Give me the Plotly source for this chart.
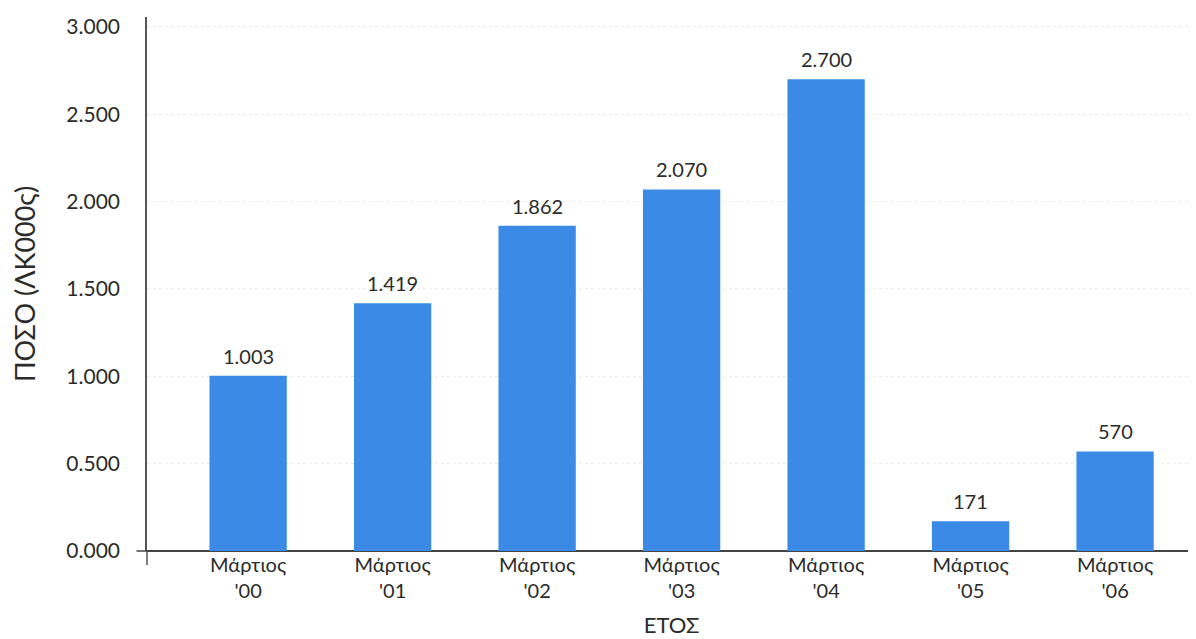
import plotly.graph_objects as go

categories = ["Μάρτιος<br>'00", "Μάρτιος<br>'01", "Μάρτιος<br>'02", "Μάρτιος<br>'03",
              "Μάρτιος<br>'04", "Μάρτιος<br>'05", "Μάρτιος<br>'06"]
values = [1003, 1419, 1862, 2070, 2700, 171, 570]
value_labels = ["1.003", "1.419", "1.862", "2.070", "2.700", "171", "570"]
y_tickvals = [0, 500, 1000, 1500, 2000, 2500, 3000]
y_ticktext = ["0.000", "0.500", "1.000", "1.500", "2.000", "2.500", "3.000"]

FONT = "Lato"
TXT = "#2b2b2b"
xs = list(range(len(categories)))

fig = go.Figure(go.Bar(
    x=xs,
    y=values,
    marker=dict(color="#3b8be6", line=dict(width=0)),
    width=0.535,
))

annotations = [
    dict(x=x, y=v, xref="x", yref="y", text=t, showarrow=False,
         yanchor="bottom", yshift=6, font=dict(family=FONT, size=20, color=TXT))
    for x, v, t in zip(xs, values, value_labels)
]

fig.update_layout(
    width=1196, height=639,
    margin=dict(l=139, r=8, t=9, b=96),
    paper_bgcolor="white", plot_bgcolor="white",
    showlegend=False,
    font=dict(family=FONT, color=TXT),
    annotations=annotations,
    xaxis=dict(
        automargin=False,
        tickmode="array",
        tickvals=xs,
        ticktext=categories,
        range=[-0.7, 6.56],
        tickfont=dict(family=FONT, size=20, color=TXT),
        showgrid=False, zeroline=False, showline=False,
        ticks="", ticklabelstandoff=0,
        title=dict(text="ΕΤΟΣ", font=dict(family=FONT, size=22, color=TXT), standoff=16),
    ),
    yaxis=dict(
        automargin=False,
        range=[0, 3057],
        tickmode="array", tickvals=y_tickvals, ticktext=y_ticktext,
        tickfont=dict(family=FONT, size=21, color=TXT),
        showgrid=True, gridcolor="#ececec", griddash="dot", gridwidth=1,
        zeroline=True, zerolinecolor="#444", zerolinewidth=1.5,
        showline=True, linecolor="#555", linewidth=1.5,
        ticks="", ticklabelstandoff=21,
        title=dict(text="ΠΟΣΟ (ΛΚ000ς)", font=dict(family=FONT, size=27, color=TXT), standoff=26),
    ),
    shapes=[
        dict(type="line", xref="paper", yref="paper", x0=0, x1=0, y0=0, y1=-0.026,
             line=dict(color="#555", width=1.5)),
        dict(type="line", xref="paper", yref="paper", x0=-0.01, x1=0, y0=0, y1=0,
             line=dict(color="#444", width=1.5)),
    ],
)

fig.write_html("out.html")
